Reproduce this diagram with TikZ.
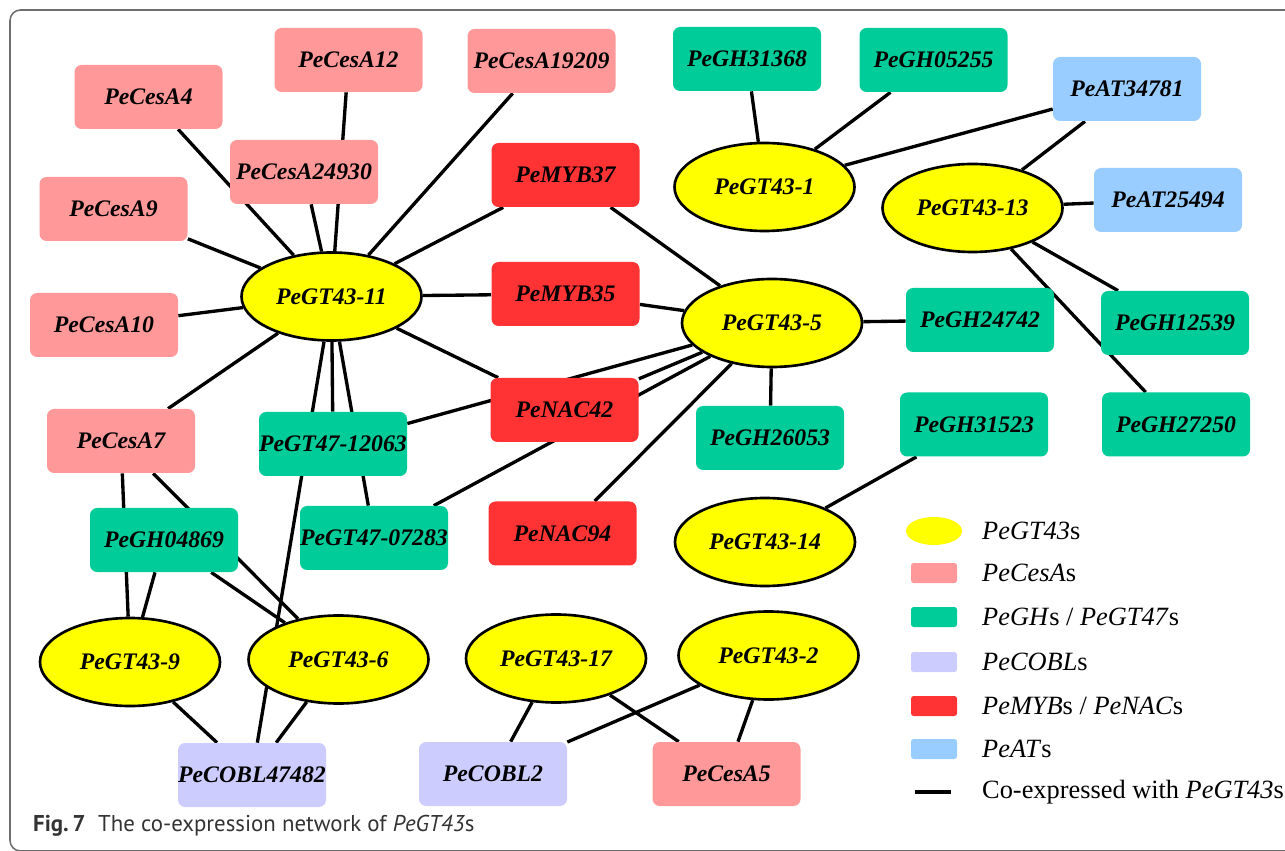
\documentclass[tikz,border=0pt]{standalone}
\usepackage{fontspec}
\setmainfont{Liberation Serif}
\newfontfamily\capfont{PT Sans}
\usetikzlibrary{shapes.geometric, backgrounds}

\definecolor{gtyellow}{HTML}{FFFF00}
\definecolor{cesapink}{HTML}{FF9999}
\definecolor{ghgreen}{HTML}{00CC99}
\definecolor{cobllav}{HTML}{CCCCFF}
\definecolor{tfred}{HTML}{FF3333}
\definecolor{atblue}{HTML}{99CCFF}
\definecolor{capgray}{HTML}{333333}
\definecolor{framegray}{HTML}{6E6E6E}

\begin{document}
\begin{tikzpicture}[
  every node/.style={font=\fontsize{13.5}{16}\selectfont\bfseries\itshape},
  box/.style={rounded corners=4pt, minimum width=2.96cm, minimum height=1.28cm, inner sep=0pt, align=center},
  cesa/.style={box, fill=cesapink},
  ghbox/.style={box, fill=ghgreen},
  cobl/.style={box, fill=cobllav},
  tfbox/.style={box, fill=tfred},
  atbox/.style={box, fill=atblue},
  gt43/.style={ellipse, draw=black, line width=1.5pt, fill=gtyellow, minimum width=3.6cm, minimum height=1.76cm, inner sep=0pt},
  link/.style={line width=1.9pt, draw=black},
  legbox/.style={rounded corners=1.5pt, minimum width=0.92cm, minimum height=0.4cm, inner sep=0pt},
  legtext/.style={anchor=west, font=\fontsize{15}{18}\selectfont},
  caption/.style={anchor=west, font=\capfont\fontsize{13}{15}\selectfont, text=capgray}
]
\useasboundingbox (0,0) rectangle (25.7,17);

% PeGT43 genes
\node[gt43] (gt11) at (6.63, 11.07) {PeGT43-11};
\node[gt43] (gt5)  at (15.44, 10.54) {PeGT43-5};
\node[gt43] (gt1)  at (15.29, 13.26) {PeGT43-1};
\node[gt43] (gt13) at (19.45, 12.84) {PeGT43-13};
\node[gt43] (gt14) at (15.30, 6.16) {PeGT43-14};
\node[gt43] (gt9)  at (2.60, 3.76) {PeGT43-9};
\node[gt43] (gt6)  at (6.77, 3.81) {PeGT43-6};
\node[gt43] (gt17) at (11.12, 3.83) {PeGT43-17};
\node[gt43] (gt2)  at (15.37, 3.89) {PeGT43-2};

% CesAs
\node[cesa] (cesA4)     at (2.97, 15.06) {PeCesA4};
\node[cesa] (cesA12)    at (6.97, 15.80) {PeCesA12};
\node[cesa] (cesA19209) at (10.83, 15.78) {PeCesA19209};
\node[cesa] (cesA24930) at (6.08, 13.56) {PeCesA24930};
\node[cesa] (cesA9)     at (2.27, 12.82) {PeCesA9};
\node[cesa] (cesA10)    at (2.08, 10.50) {PeCesA10};
\node[cesa] (cesA7)     at (2.42, 8.18) {PeCesA7};
\node[cesa] (cesA5)     at (14.53, 1.52) {PeCesA5};

% GHs and GT47s
\node[ghbox] (gh04869) at (3.28, 6.20) {PeGH04869};
\node[ghbox] (gt47a)   at (6.66, 8.12) {PeGT47-12063};
\node[ghbox] (gt47b)   at (7.48, 6.24) {PeGT47-07283};
\node[ghbox] (gh31368) at (14.94, 15.82) {PeGH31368};
\node[ghbox] (gh05255) at (18.67, 15.80) {PeGH05255};
\node[ghbox] (gh24742) at (19.60, 10.60) {PeGH24742};
\node[ghbox] (gh12539) at (23.50, 10.54) {PeGH12539};
\node[ghbox] (gh26053) at (15.40, 8.24) {PeGH26053};
\node[ghbox] (gh31523) at (19.48, 8.51) {PeGH31523};
\node[ghbox] (gh27250) at (23.52, 8.51) {PeGH27250};

% MYBs and NACs
\node[tfbox] (myb37) at (11.31, 13.50) {PeMYB37};
\node[tfbox] (myb35) at (11.31, 11.12) {PeMYB35};
\node[tfbox] (nac42) at (11.29, 8.80) {PeNAC42};
\node[tfbox] (nac94) at (11.25, 6.33) {PeNAC94};

% COBLs and ATs
\node[cobl] (cobl47482) at (5.04, 1.50) {PeCOBL47482};
\node[cobl] (cobl2)     at (9.86, 1.52) {PeCOBL2};
\node[atbox] (at34781)  at (22.54, 15.22) {PeAT34781};
\node[atbox] (at25494)  at (23.36, 13.00) {PeAT25494};

% Legend
\node[ellipse, fill=gtyellow, minimum width=1.12cm, minimum height=0.56cm, inner sep=0pt] (legGT) at (18.68, 6.38) {};
\node[legbox, fill=cesapink] (legCesA) at (18.68, 5.54) {};
\node[legbox, fill=ghgreen]  (legGH)   at (18.68, 4.66) {};
\node[legbox, fill=cobllav]  (legCOBL) at (18.68, 3.76) {};
\node[legbox, fill=tfred]    (legTF)   at (18.68, 2.88) {};
\node[legbox, fill=atblue]   (legAT)   at (18.68, 2.02) {};
\coordinate (legL1) at (18.30, 1.16);
\coordinate (legL2) at (19.02, 1.16);
\draw[link] (legL1) -- (legL2);
\node[legtext] (txtGT)   at (19.52, 6.38) {\textit{PeGT43}s};
\node[legtext] (txtCesA) at (19.52, 5.54) {\textit{PeCesA}s};
\node[legtext] (txtGH)   at (19.52, 4.66) {\textit{PeGH}s / \textit{PeGT47}s};
\node[legtext] (txtCOBL) at (19.52, 3.76) {\textit{PeCOBL}s};
\node[legtext] (txtTF)   at (19.52, 2.88) {\textit{PeMYB}s / \textit{PeNAC}s};
\node[legtext] (txtAT)   at (19.52, 2.02) {\textit{PeAT}s};
\node[legtext] (txtLink) at (19.52, 1.16) {Co-expressed with \textit{PeGT43}s};

% Caption
\node[caption] (cap) at (0.54, 0.48) {\textbf{Fig.\,7}\hspace{0.55em}The co-expression network of \textit{PeGT43}s};

\begin{scope}[on background layer]
% frame
\draw[framegray, line width=0.9pt, rounded corners=6pt] (0.2, -0.02) rectangle (26.2, 16.8);

% PeGT43-11 hub
\draw[link] (gt11) -- (cesA4);  \draw[link] (gt11) -- (cesA12);
\draw[link] (gt11) -- (cesA19209); \draw[link] (gt11) -- (cesA24930);
\draw[link] (gt11) -- (cesA9);  \draw[link] (gt11) -- (cesA10);
\draw[link] (gt11) -- (cesA7);
\draw[link] (gt11) -- (myb37);  \draw[link] (gt11) -- (myb35);
\draw[link] (gt11) -- (nac42);
\draw[link] (gt11) -- (gt47a);  \draw[link] (gt11) -- (gt47b);
\draw[link] (gt11) -- (cobl47482);

% PeGT43-5
\draw[link] (gt5) -- (myb37);  \draw[link] (gt5) -- (myb35);
\draw[link] (gt5) -- (nac42);  \draw[link] (gt5) -- (nac94);
\draw[link] (gt5) -- (gt47a);  \draw[link] (gt5) -- (gt47b);
\draw[link] (gt5) -- (gh26053); \draw[link] (gt5) -- (gh24742);

% PeGT43-1 and PeGT43-13
\draw[link] (gt1) -- (gh31368); \draw[link] (gt1) -- (gh05255);
\draw[link] (gt1) -- (at34781);
\draw[link] (gt13) -- (at34781); \draw[link] (gt13) -- (at25494);
\draw[link] (gt13) -- (gh12539); \draw[link] (gt13) -- (gh27250);

% PeGT43-14
\draw[link] (gt14) -- (gh31523);

% bottom left
\draw[link] (gt9) -- (cesA7);  \draw[link] (gt9) -- (gh04869);
\draw[link] (gt9) -- (cobl47482);
\draw[link] (gt6) -- (cesA7);  \draw[link] (gt6) -- (gh04869);
\draw[link] (gt6) -- (cobl47482);

% bottom middle
\draw[link] (gt17) -- (cobl2); \draw[link] (gt17) -- (cesA5);
\draw[link] (gt2) -- (cobl2);  \draw[link] (gt2) -- (cesA5);
\end{scope}

\end{tikzpicture}
\end{document}
